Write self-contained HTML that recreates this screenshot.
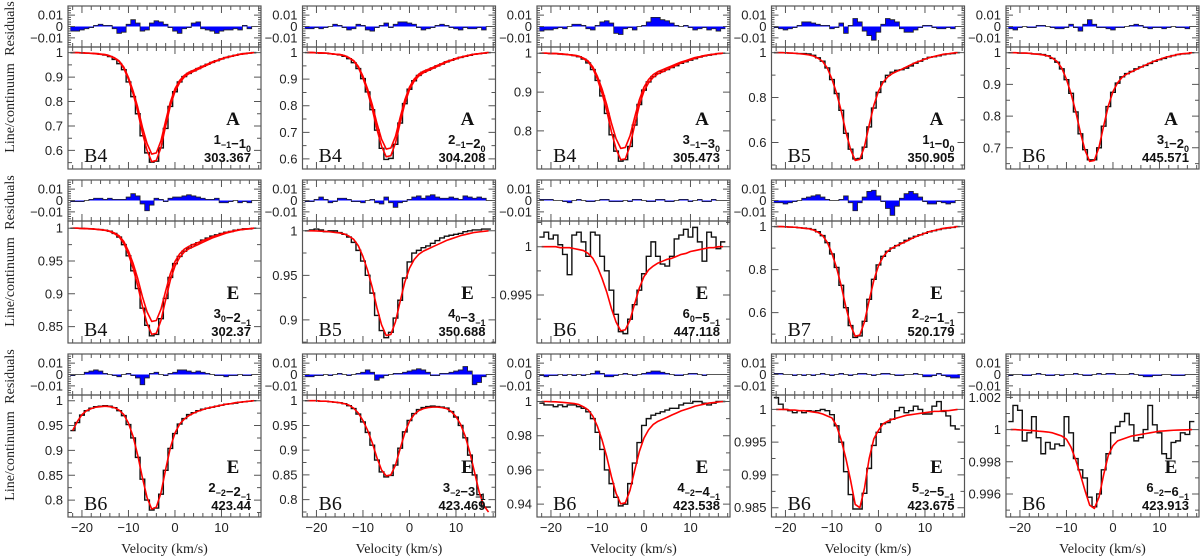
<!DOCTYPE html>
<html><head><meta charset="utf-8"><style>
html,body{margin:0;padding:0;background:#fff;}
svg{display:block;}
</style></head><body>
<svg id="fig" width="1200" height="560" viewBox="0 0 1200 560" xmlns="http://www.w3.org/2000/svg"></svg>
<script>
// velocity channels (km/s)
const velocities = [-22,-21,-20,-19,-18,-17,-16,-15,-14,-13,-12,-11,-10,-9,-8,-7,-6,-5,-4,-3,-2,-1,0,1,2,3,4,5,6,7,8,9,10,11,12,13,14,15,16,17];
const xTickLabels = [-20,-10,0,10];

// ---- Row 1 ----
const obs_r1c1 = [1,1,.999,.998,.997,.996,.993,.990,.984,.972,.955,.930,.880,.820,.750,.660,.590,.552,.556,.610,.690,.780,.840,.880,.902,.915,.925,.935,.944,.952,.960,.967,.974,.980,.985,.989,.993,.996,.998,1];
const modelA_r1c1 = [1,1,.999,.998,.997,.996,.994,.992,.987,.979,.966,.941,.898,.843,.776,.695,.628,.585,.590,.640,.721,.797,.852,.886,.907,.920,.928,.937,.945,.953,.962,.968,.975,.981,.985,.989,.994,.996,.998,1];
const modelB_r1c1 = [1,1,.999,.998,.997,.995,.993,.991,.986,.977,.964,.936,.891,.832,.759,.672,.600,.554,.559,.613,.700,.782,.841,.877,.900,.914,.923,.932,.941,.950,.959,.966,.973,.980,.984,.989,.993,.995,.998,1];
const resid_r1c1 = [-.004,-.004,-.003,-.002,-.001,.001,.002,.001,.001,-.002,-.006,-.005,.002,.006,.003,-.004,-.003,.003,.005,.004,.002,-.001,-.004,-.006,-.002,-.001,.003,.004,-.002,-.003,-.004,-.006,-.004,-.003,-.003,-.002,-.003,.001,-.002,0];

const obs_r1c2 = [1,1,.999,.998,.998,.996,.994,.991,.986,.977,.962,.940,.902,.852,.785,.708,.640,.598,.602,.655,.735,.808,.862,.894,.914,.926,.934,.942,.950,.957,.965,.971,.977,.982,.986,.990,.994,.996,.998,1];
const modelA_r1c2 = [1,1,.999,.999,.998,.996,.994,.993,.989,.981,.970,.948,.911,.863,.804,.734,.674,.637,.641,.685,.756,.822,.870,.900,.919,.930,.937,.944,.952,.959,.967,.972,.978,.983,.987,.991,.994,.996,.998,1];
const modelB_r1c2 = [1,1,.999,.998,.998,.996,.994,.992,.988,.980,.968,.944,.904,.852,.788,.712,.648,.608,.612,.660,.736,.808,.860,.892,.912,.924,.932,.940,.948,.956,.964,.970,.976,.982,.986,.990,.994,.996,.998,1];
const resid_r1c2 = [-.002,-.002,-.001,-.002,-.001,0,.002,.001,-.001,-.003,-.002,.002,.001,-.003,-.004,-.001,.001,.003,-.001,.002,.004,.004,.003,.002,-.001,-.003,-.002,-.001,.001,.002,.001,-.001,-.002,-.003,-.001,-.002,-.002,-.001,-.003,0];

const obs_r1c3 = [1,1,.999,.999,.998,.997,.996,.994,.991,.985,.975,.958,.930,.890,.845,.790,.748,.722,.726,.760,.815,.868,.905,.926,.940,.948,.953,.958,.963,.968,.974,.978,.982,.986,.990,.993,.995,.997,.999,1];
const modelA_r1c3 = [1,1,.9995,.999,.9985,.9975,.996,.995,.9925,.9875,.98,.965,.94,.9075,.8675,.82,.78,.755,.7575,.7875,.835,.88,.9125,.9325,.945,.9525,.9575,.9625,.9675,.9725,.9775,.981,.985,.989,.991,.994,.996,.9975,.999,1];
const modelB_r1c3 = [1,1,.999,.999,.998,.997,.996,.994,.992,.986,.978,.961,.933,.896,.852,.798,.754,.726,.728,.762,.815,.866,.902,.924,.938,.947,.952,.958,.964,.969,.975,.979,.983,.987,.990,.993,.996,.997,.999,1];
const resid_r1c3 = [-.004,-.003,-.003,-.002,-.001,-.002,0,.002,.002,.001,-.002,-.003,.001,.004,.005,.003,-.006,-.007,-.002,-.001,-.003,0,.001,.004,.008,.008,.006,.005,.003,.001,0,.001,-.001,-.003,-.002,-.001,-.003,-.002,-.004,-.002];

const obs_r1c4 = [1,1,.999,.998,.997,.996,.996,.994,.988,.977,.962,.932,.880,.818,.743,.641,.570,.527,.529,.579,.669,.753,.823,.870,.899,.913,.921,.924,.931,.941,.953,.962,.972,.979,.982,.986,.991,.994,.996,1];
const model_r1c4 = [1,1,.999,.998,.997,.995,.993,.990,.985,.975,.961,.931,.882,.819,.740,.647,.569,.520,.525,.583,.677,.765,.828,.868,.892,.907,.917,.926,.936,.946,.956,.963,.971,.978,.983,.988,.993,.995,.998,1];
const resid_r1c4 = [-.001,-.002,-.003,-.002,-.001,.001,.004,.004,.003,.002,.001,.001,-.002,-.001,.003,-.006,.001,.007,.004,-.004,-.008,-.012,-.005,.002,.007,.006,.004,-.002,-.005,-.005,-.003,-.001,.001,.001,-.001,-.002,-.002,-.001,-.002,0];

const obs_r1c5 = [1,1,.999,.999,.998,.996,.996,.994,.990,.982,.970,.949,.915,.872,.813,.744,.694,.662,.662,.700,.768,.830,.875,.904,.924,.934,.941,.949,.955,.960,.966,.973,.978,.982,.987,.991,.994,.996,.997,1];
const model_r1c5 = [1,1,.999,.999,.998,.996,.995,.993,.990,.983,.972,.951,.916,.870,.814,.748,.692,.657,.660,.702,.769,.832,.877,.905,.923,.933,.940,.947,.954,.961,.968,.974,.979,.984,.988,.991,.995,.997,.998,1];
const resid_r1c5 = [-.002,-.003,-.001,0,-.001,-.001,.001,.001,0,-.001,-.002,-.002,-.001,.002,-.001,-.004,.002,.006,.002,-.001,-.001,-.002,-.003,-.001,-.001,0,.001,.002,.001,-.001,-.002,-.001,-.001,-.002,-.001,0,-.001,-.001,-.002,0];

// ---- Row 2 ----
const obs_r2c1 = [1,1,.9997,.9993,.999,.9985,.998,.997,.9955,.992,.9865,.975,.958,.935,.908,.878,.852,.836,.838,.862,.893,.925,.946,.957,.965,.970,.975,.978,.982,.985,.988,.990,.992,.994,.995,.997,.998,.999,.999,1];
const modelA_r2c1 = [1,1,.9997,.9994,.9991,.9985,.9978,.9971,.9956,.9927,.9884,.9797,.9652,.9463,.9231,.8956,.8724,.8579,.8593,.8767,.9043,.9304,.9492,.9608,.9681,.9724,.9753,.9782,.9811,.984,.9869,.9891,.9913,.9935,.9949,.9964,.9978,.9985,.9993,1];
const modelB_r2c1 = [1,1,.9997,.9993,.999,.9983,.9975,.9967,.995,.9917,.9868,.9769,.9604,.9389,.9125,.8812,.8548,.8383,.8399,.8597,.8911,.9208,.9422,.9554,.9637,.9686,.9719,.9752,.9785,.9818,.9851,.9876,.9901,.9926,.9942,.9959,.9975,.9983,.9992,1];
const resid_r2c1 = [-.001,-.001,-.001,0,.001,.002,.002,.001,.002,.001,.001,.001,.003,.006,.004,-.003,-.009,-.004,.002,.001,-.001,.002,.003,.003,.004,.005,.004,.003,.002,.001,.001,.002,-.002,-.002,-.001,0,-.002,-.001,-.002,0];

const obs_r2c2 = [1,1.001,1.002,1.001,.999,1.0,1.0,.998,.996,.993,.987,.978,.966,.950,.930,.905,.888,.880,.886,.902,.922,.947,.965,.975,.978,.981,.983,.986,.989,.992,.994,.995,.996,.997,.999,1.0,1.001,1.001,1.002,1.002];
const model_r2c2 = [1,1,.9998,.9995,.9993,.9988,.9982,.9976,.9964,.994,.9904,.9832,.9712,.9556,.9364,.9136,.8944,.8824,.8836,.898,.9208,.9424,.958,.9676,.9736,.9772,.9796,.982,.9844,.9868,.9892,.991,.9928,.9946,.9958,.997,.9982,.9988,.9994,1];
const resid_r2c2 = [-.001,-.001,.001,.003,.001,-.002,-.001,.002,.002,.001,-.001,-.001,-.002,0,.001,-.002,-.003,.003,-.002,-.006,-.002,-.001,.001,.003,.004,.002,.004,.005,.003,.002,.002,.003,.002,.001,.004,.003,.002,.003,.002,0];

const obs_r2c3 = [1.0010,1.0015,1.0008,1.0012,1.0002,.9992,.9971,1.0012,1.0015,1.0005,.9990,1.0015,1.0012,.9990,.9975,.9955,.9930,.9912,.9910,.9925,.9940,.9955,.9972,.9990,1.0005,.9990,.9982,.9980,.9990,1.0008,1.0012,1.0018,1.0010,1.0020,1.0005,.9985,1.0015,1.0010,.9998,1.0005];
const model_r2c3 = [1,1,1,1,.9999,.9999,.9999,.9998,.9997,.9996,.9993,.9988,.9979,.9967,.9953,.9936,.9922,.9913,.9914,.9924,.9941,.9957,.9969,.9976,.998,.9983,.9985,.9987,.9988,.999,.9992,.9993,.9995,.9996,.9997,.9998,.9999,.9999,1,1];
const resid_r2c3 = [.001,.001,.001,0,0,-.001,-.002,0,.001,0,-.001,-.001,0,.001,.001,-.001,-.001,-.001,0,-.001,.001,.001,0,-.001,-.001,.001,.001,-.001,-.001,0,.001,.001,-.001,0,.001,-.001,-.001,.001,0,0];

const obs_r2c4 = [1,1,.999,.998,.997,.995,.993,.991,.986,.976,.958,.925,.873,.810,.727,.623,.540,.485,.492,.560,.662,.755,.822,.862,.885,.900,.912,.924,.936,.946,.955,.962,.969,.976,.981,.986,.991,.993,.996,1];
const model_r2c4 = [1,1,.999,.998,.997,.995,.992,.990,.984,.974,.958,.927,.875,.808,.724,.626,.542,.490,.496,.558,.657,.750,.818,.860,.886,.901,.912,.922,.932,.943,.953,.961,.969,.977,.982,.987,.992,.995,.997,1];
const resid_r2c4 = [-.002,-.002,-.003,-.002,-.001,0,.002,.003,.004,.005,.003,.001,0,0,.001,.004,-.002,-.009,-.002,.003,.008,.009,.004,-.001,-.007,-.013,-.005,.002,.006,.008,.006,.003,-.001,-.003,-.003,-.001,-.002,-.003,-.002,0];

// ---- Row 3 ----
const obs_r3c1 = [.940,.956,.971,.980,.985,.988,.989,.990,.989,.986,.980,.970,.952,.925,.886,.842,.800,.780,.784,.812,.860,.904,.934,.953,.964,.972,.976,.980,.983,.985,.987,.989,.991,.993,.994,.995,.997,.998,.999,1.0];
const model_r3c1 = [.940,.958,.972,.980,.984,.987,.988,.989,.988,.986,.981,.972,.955,.928,.890,.845,.805,.782,.786,.815,.862,.905,.935,.953,.963,.970,.975,.979,.982,.985,.987,.989,.991,.993,.994,.996,.997,.998,.999,1.0];
const resid_r3c1 = [-.001,0,0,.002,.003,.004,.003,.001,0,-.001,-.002,0,.001,-.001,-.003,-.009,-.003,.001,.002,0,-.001,.001,.002,.004,.004,.003,.002,.003,.002,.001,0,-.001,-.001,-.002,-.001,-.001,0,-.001,-.001,0];

const obs_r3c2 = [1,1,1,.999,.999,.998,.997,.996,.994,.990,.984,.973,.957,.936,.910,.880,.856,.846,.849,.870,.904,.937,.960,.974,.982,.986,.988,.989,.988,.987,.985,.978,.967,.950,.925,.890,.850,.810,.785,.785];
const model_r3c2 = [1,1,1,.999,.999,.998,.997,.996,.994,.991,.985,.975,.960,.940,.915,.885,.860,.848,.850,.870,.903,.935,.958,.972,.980,.984,.986,.987,.987,.986,.984,.978,.968,.952,.928,.895,.855,.815,.788,.775];
const resid_r3c2 = [-.002,-.002,-.001,-.001,0,-.001,0,.001,0,-.001,0,.001,.002,.004,.002,-.005,-.003,-.001,0,.001,.001,.002,.003,.004,.005,.004,.002,-.001,-.001,.001,.001,.002,.003,.004,.007,.003,-.009,-.007,-.002,0];

const obs_r3c3 = [.999,.998,.998,.997,.998,.997,.998,.998,.997,.996,.994,.990,.982,.972,.960,.952,.944,.939,.940,.952,.964,.976,.986,.990,.992,.993,.994,.995,.996,.996,.998,.999,.999,1.0,1.0,.999,.998,.999,1.0,1.0];
const model_r3c3 = [1,1,.9999,.9998,.9996,.9994,.9991,.9988,.9982,.9969,.9951,.9915,.9854,.9774,.9677,.9561,.9463,.9402,.9408,.9481,.9597,.9707,.9786,.9835,.9866,.9884,.9896,.9908,.9921,.9933,.9945,.9954,.9963,.9973,.9979,.9985,.9991,.9994,.9997,1];
const resid_r3c3 = [-.001,-.002,-.001,-.001,0,-.001,0,-.001,0,-.001,0,.001,.003,.001,-.002,-.002,-.001,0,.001,0,-.001,0,.001,.002,.003,.003,.002,.001,0,-.001,-.001,0,.001,.001,0,-.001,0,0,0,0];

const obs_r3c4 = [1.0018,1.0008,1.0,.9998,.9995,.9998,.9995,.9998,.9997,.9998,1.0,.9998,.9992,.9975,.995,.9905,.987,.9848,.9848,.9872,.991,.9945,.9965,.9978,.998,.9985,.9998,1.0003,.9995,.9998,1.0005,1.0,.9993,.9993,1.0005,1.0012,.9997,.999,.9975,.997];
const model_r3c4 = [1,1,1,.9999,.9999,.9998,.9998,.9997,.9996,.9995,.9993,.999,.9987,.9975,.9953,.9925,.9892,.9855,.985,.988,.9925,.9955,.9968,.9978,.9982,.9985,.9987,.9989,.9991,.9992,.9993,.9994,.9995,.9996,.9997,.9997,.9998,.9998,.9999,1];
const resid_r3c4 = [.001,.001,0,0,-.001,0,-.001,0,-.001,0,.001,0,-.001,0,.001,0,-.001,0,.001,.001,0,-.001,0,.001,.001,0,-.001,-.001,0,0,.001,0,-.002,-.002,-.001,.001,-.001,-.002,-.003,-.003];

const obs_r3c5 = [1.0005,1.0015,1.0012,.9993,.9998,1.0008,.9995,.9985,.9992,.9988,.9991,.999,1.0008,.9998,.9982,.9975,.997,.9958,.9952,.996,.9975,.9985,.9998,1.0002,1.0005,1.001,1.0003,.9993,.9995,1.0,1.0015,1.0003,.9998,.9985,.9982,.9992,.9993,.9998,.9997,1.0005];
const model_r3c5 = [1.0,1.0,.99998,.99997,.99995,.99993,.9999,.99988,.99985,.9998,.9997,.9996,.9994,.9989,.9981,.9972,.9962,.9953,.9951,.9958,.9972,.9984,.999,.9993,.9994,.9995,.9996,.99965,.9997,.99975,.9998,.99985,.9999,.99992,.99994,.99996,.99997,.99998,.99999,1.0];
const resid_r3c5 = [-.001,0,0,-.001,-.001,0,.001,0,-.001,-.001,0,-.001,0,0,.001,0,-.001,-.001,0,.001,0,.001,.001,0,0,0,.001,0,-.001,-.002,-.002,-.001,-.001,0,0,-.001,-.001,-.001,0,0];

// panel configuration (axes / labels)
const colLeft = [68, 302.5, 537, 771.5, 1006];
const rowTop = [6, 180, 354];
const PW = 193, RH = 41, MH = 122;
const VMIN = -23, VMAX = 18.5;
const panels = [
 {r:0,c:0,lo:.524,hi:1.023,ticks:[.6,.7,.8,.9,1],minor:.05,dec:1,band:'B4',sym:'A',tr:[['1','−1'],['1','0']],freq:'303.367',obs:obs_r1c1,models:[modelA_r1c1,modelB_r1c1],res:resid_r1c1},
 {r:0,c:1,lo:.562,hi:1.021,ticks:[.6,.7,.8,.9,1],minor:.05,dec:1,band:'B4',sym:'A',tr:[['2','−1'],['2','0']],freq:'304.208',obs:obs_r1c2,models:[modelA_r1c2,modelB_r1c2],res:resid_r1c2},
 {r:0,c:2,lo:.702,hi:1.016,ticks:[.8,.9,1],minor:.05,dec:1,band:'B4',sym:'A',tr:[['3','−1'],['3','0']],freq:'305.473',obs:obs_r1c3,models:[modelA_r1c3,modelB_r1c3],res:resid_r1c3},
 {r:0,c:3,lo:.482,hi:1.025,ticks:[.6,.8,1],minor:.1,dec:1,band:'B5',sym:'A',tr:[['1','1'],['0','0']],freq:'350.905',obs:obs_r1c4,models:[model_r1c4],res:resid_r1c4},
 {r:0,c:4,lo:.633,hi:1.018,ticks:[.7,.8,.9,1],minor:.05,dec:1,band:'B6',sym:'A',tr:[['3','1'],['2','0']],freq:'445.571',obs:obs_r1c5,models:[model_r1c5],res:resid_r1c5},
 {r:1,c:0,lo:.825,hi:1.011,ticks:[.85,.9,.95,1],minor:.025,dec:2,band:'B4',sym:'E',tr:[['3','0'],['2','−1']],freq:'302.37',obs:obs_r2c1,models:[modelA_r2c1,modelB_r2c1],res:resid_r2c1},
 {r:1,c:1,lo:.874,hi:1.011,ticks:[.9,.95,1],minor:.025,dec:2,band:'B5',sym:'E',tr:[['4','0'],['3','−1']],freq:'350.688',obs:obs_r2c2,models:[model_r2c2],res:resid_r2c2},
 {r:1,c:2,lo:.99003,hi:1.00266,ticks:[.995,1],minor:.0025,dec:3,band:'B6',sym:'E',tr:[['6','0'],['5','−1']],freq:'447.118',obs:obs_r2c3,models:[model_r2c3],res:resid_r2c3},
 {r:1,c:3,lo:.459,hi:1.026,ticks:[.6,.8,1],minor:.1,dec:1,band:'B7',sym:'E',tr:[['2','−2'],['1','−1']],freq:'520.179',obs:obs_r2c4,models:[model_r2c4],res:resid_r2c4},
 {r:2,c:0,lo:.766,hi:1.0115,ticks:[.8,.85,.9,.95,1],minor:.025,dec:2,band:'B6',sym:'E',tr:[['2','−2'],['2','−1']],freq:'423.44',obs:obs_r3c1,models:[model_r3c1],res:resid_r3c1},
 {r:2,c:1,lo:.765,hi:1.0115,ticks:[.8,.85,.9,.95,1],minor:.025,dec:2,band:'B6',sym:'E',tr:[['3','−2'],['3','−1']],freq:'423.469',obs:obs_r3c2,models:[model_r3c2],res:resid_r3c2},
 {r:2,c:2,lo:.9325,hi:1.0038,ticks:[.94,.96,.98,1],minor:.01,dec:2,band:'B6',sym:'E',tr:[['4','−2'],['4','−1']],freq:'423.538',obs:obs_r3c3,models:[model_r3c3],res:resid_r3c3},
 {r:2,c:3,lo:.98358,hi:1.0022,ticks:[.985,.99,.995,1],minor:.0025,dec:3,band:'B6',sym:'E',tr:[['5','−2'],['5','−1']],freq:'423.675',obs:obs_r3c4,models:[model_r3c4],res:resid_r3c4},
 {r:2,c:4,lo:.99457,hi:1.00215,ticks:[.996,.998,1,1.002],minor:.001,dec:3,band:'B6',sym:'E',tr:[['6','−2'],['6','−1']],freq:'423.913',obs:obs_r3c5,models:[model_r3c5],res:resid_r3c5}
];

const svg = document.getElementById('fig');
const NS = 'http://www.w3.org/2000/svg';
function mk(tag, attrs, parent){
  const e = document.createElementNS(NS, tag);
  for (const k in attrs) e.setAttribute(k, attrs[k]);
  parent.appendChild(e);
  return e;
}
function fmt(v, dec){
  let s = v.toFixed(dec);
  s = s.replace(/0+$/,'').replace(/\.$/,'');
  return s;
}

panels.forEach(function(p){
  const g = mk('g', {}, svg);
  
  
  const L = colLeft[p.c], R = L + PW;
  const rt = rowTop[p.r], rb = rt + RH, mt = rb, mb = mt + MH;
  const xs = v => L + (v - VMIN) / (VMAX - VMIN) * PW;
  const ys = y => mt + (p.hi - y) / (p.hi - p.lo) * MH;
  const RLIM = 0.018;
  const yr = y => rt + (RLIM - y) / (2*RLIM) * RH;

  let d = '';
  let line = '';
  p.res.forEach(function(val, i){
    const v = velocities[i];
    const x0 = xs(v-0.5), x1 = xs(v+0.5), y0 = yr(0), y1 = yr(val);
    d += 'M'+x0+' '+y0+'L'+x0+' '+y1+'L'+x1+' '+y1+'L'+x1+' '+y0+'Z';
    line += (i===0?'M'+x0+' '+y1:'L'+x0+' '+y1) + 'L'+x1+' '+y1;
  });
  const rf = mk('path', {d:d, fill:'#0000ff', stroke:'none'}, g);
  
  
  const rl = mk('path', {d:line, fill:'none', stroke:'#222', 'stroke-width':0.8}, g);
  
  

  let od = '';
  p.obs.forEach(function(val, i){
    const v = velocities[i];
    const x0 = xs(v-0.5), x1 = xs(v+0.5), y = ys(val);
    od += (i===0?'M':'L') + x0 + ' ' + y + 'L' + x1 + ' ' + y;
  });
  const op = mk('path', {d:od, fill:'none', stroke:'#111', 'stroke-width':1.4}, g);
  
  

  p.models.forEach(function(m, k){
    let md = '';
    m.forEach(function(val, i){
      md += (i===0?'M':'L') + xs(velocities[i]) + ' ' + ys(val);
    });
    const mp = mk('path', {d:md, fill:'none', stroke:'#ff0000', 'stroke-width':1.6, 'stroke-linejoin':'round'}, g);
    
    
  });

  const f1 = mk('rect', {x:L, y:rt, width:PW, height:RH, fill:'none', stroke:'#555', 'stroke-width':1.2}, g);
  
  
  const f2 = mk('rect', {x:L, y:mt, width:PW, height:MH, fill:'none', stroke:'#555', 'stroke-width':1.2}, g);
  
  

  let td = '';
  for (let v = -22; v <= 18; v += 2){
    const x = xs(v);
    const major = (v % 10 === 0);
    const len = major ? 7 : 4;
    [[rt,1],[rb,-1],[mt,1],[mb,-1]].forEach(function(e){
      td += 'M'+x+' '+e[0]+'L'+x+' '+(e[0]+e[1]*len);
    });
  }
  const step = p.minor;
  const start = Math.ceil(p.lo/step - 1e-6)*step;
  for (let y = start; y <= p.hi + 1e-9; y += step){
    const yy = ys(y);
    const isMajor = p.ticks.some(t => Math.abs(t - y) < step/10);
    const len = isMajor ? 7 : 4;
    td += 'M'+L+' '+yy+'L'+(L+len)+' '+yy+'M'+R+' '+yy+'L'+(R-len)+' '+yy;
  }
  for (let k = -8; k <= 8; k++){
    const y = k*0.002;
    const yy = yr(y);
    const len = 3;
    td += 'M'+L+' '+yy+'L'+(L+len)+' '+yy+'M'+R+' '+yy+'L'+(R-len)+' '+yy;
  }
  [-0.01, 0, 0.01].forEach(function(y){
    const yy = yr(y);
    td += 'M'+L+' '+yy+'L'+(L+7)+' '+yy+'M'+R+' '+yy+'L'+(R-7)+' '+yy;
  });
  const tk = mk('path', {d:td, stroke:'#555', 'stroke-width':1, fill:'none'}, g);
  
  

  p.ticks.forEach(function(t){
    const tl = mk('text', {x:L-5, y:ys(t)+4.5, 'text-anchor':'end', 'font-family':'Liberation Sans, sans-serif', 'font-size':13, fill:'#222'}, g);
    tl.textContent = fmt(t, p.dec);
    
    
  });
  [[0.01,'0.01'],[0,'0'],[-0.01,'−0.01']].forEach(function(t){
    const tl = mk('text', {x:L-5, y:yr(t[0])+4.5, 'text-anchor':'end', 'font-family':'Liberation Sans, sans-serif', 'font-size':13, fill:'#222'}, g);
    tl.textContent = t[1];
    
    
  });

  const bt = mk('text', {x:L+16, y:mt+115, 'font-family':'Liberation Serif, serif', 'font-size':20, fill:'#111'}, g);
  bt.textContent = p.band;
  
  
  const st = mk('text', {x:R-28, y:mt+78, 'text-anchor':'middle', 'font-family':'Liberation Serif, serif', 'font-size':19, 'font-weight':'bold', fill:'#111'}, g);
  st.textContent = p.sym;
  
  
  const tt = mk('text', {x:R-10, y:mt+97, 'text-anchor':'end', 'font-family':'Liberation Sans, sans-serif', 'font-size':13, 'font-weight':'bold', fill:'#111'}, g);
  
  
  p.tr.forEach(function(part, i){
    const a = mk('tspan', {}, tt);
    a.textContent = (i===1 ? '−' : '') + part[0];
    const s = mk('tspan', {dy:4, 'font-size':9}, tt);
    s.textContent = part[1];
    const back = mk('tspan', {dy:-4, 'font-size':9}, tt);
    back.textContent = '';
  });
  const ft = mk('text', {x:R-10, y:mt+115, 'text-anchor':'end', 'font-family':'Liberation Sans, sans-serif', 'font-size':13, 'font-weight':'bold', fill:'#111'}, g);
  ft.textContent = p.freq;
  
  

  if (p.r === 2){
    xTickLabels.forEach(function(v){
      const xl = mk('text', {x:xs(v), y:mb+15, 'text-anchor':'middle', 'font-family':'Liberation Sans, sans-serif', 'font-size':13, fill:'#222'}, g);
      xl.textContent = v < 0 ? '−' + Math.abs(v) : String(v);
      
      
    });
    const xt = mk('text', {x:L+PW/2, y:553, 'text-anchor':'middle', 'font-family':'Liberation Serif, serif', 'font-size':14, fill:'#222'}, g);
    xt.textContent = 'Velocity (km/s)';
    
    
  }
  if (p.c === 0){
    const cy1 = mt + MH/2, cy2 = rt + RH/2 + 2;
    const y1 = mk('text', {x:14, y:cy1, 'text-anchor':'middle', transform:'rotate(-90 14 '+cy1+')', 'font-family':'Liberation Serif, serif', 'font-size':14, fill:'#222'}, g);
    y1.textContent = 'Line/continuum';
    
    
    const y2 = mk('text', {x:14, y:cy2, 'text-anchor':'middle', transform:'rotate(-90 14 '+cy2+')', 'font-family':'Liberation Serif, serif', 'font-size':14, fill:'#222'}, g);
    y2.textContent = 'Residuals';
    
    
  }
});
</script>
</body></html>
